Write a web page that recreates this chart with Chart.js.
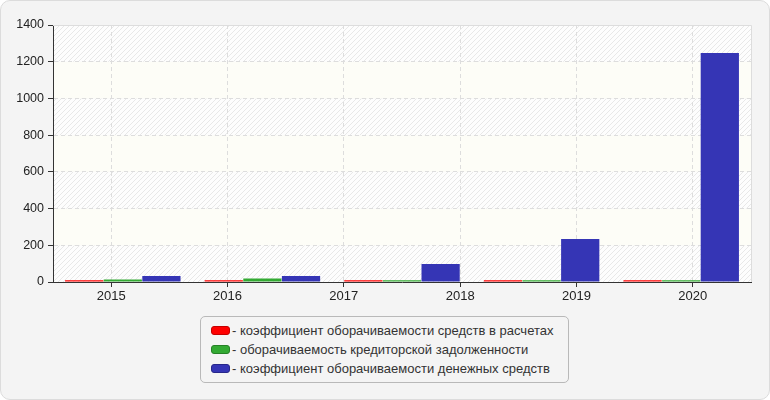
<!DOCTYPE html>
<html>
<head>
<meta charset="utf-8">
<script src="https://cdn.jsdelivr.net/npm/chart.js@4.4.0/dist/chart.umd.min.js"></script>
<style>
    body { margin: 0; background: #fff; font-family: "Liberation Sans", Arial, sans-serif; }
    #frame { position: absolute; left: 0; top: 0; width: 770px; height: 400px; box-sizing: border-box;
             border: 1px solid #dcdcdc; border-radius: 10px; background: #f4f4f4; }
    #wrap { position: absolute; left: 0; top: 0; width: 770px; height: 310px; }
    #legend { position: absolute; left: 200px; top: 316px; width: 369px; height: 67px; box-sizing: border-box;
              border: 1px solid #b9b9b9; border-radius: 5px; padding: 4px 0 0 10px;
              font-size: 13px; color: #333; }
    .item { height: 19px; line-height: 19px; white-space: nowrap; }
    .swatch { display: inline-block; width: 17px; height: 7px; border-radius: 3px; border: 1px solid;
              vertical-align: middle; margin: -2px 2px 0 0; }
</style>
</head>
<body>
<div id="frame"></div>
<div id="wrap"><canvas id="turnover-chart" width="770" height="310"></canvas></div>
<div id="legend"></div>
<script>
const yearLabels = ["2015", "2016", "2017", "2018", "2019", "2020"];
const periodLabels = ["2015-2016", "2016-2017", "2017-2018", "2018-2019", "2019-2020"];
const settlementTurnover = [10, 10, 10, 10, 10];
const payablesTurnover = [14, 19, 10, 10, 10];
const cashTurnover = [33, 33, 98, 234, 1248];
const yTicks = [0, 200, 400, 600, 800, 1000, 1200, 1400];

const seriesNames = [
    "коэффициент оборачиваемости средств в расчетах",
    "оборачиваемость кредиторской задолженности",
    "коэффициент оборачиваемости денежных средств"
];
const seriesColors = ["#ff0000", "#33aa33", "#3535b5"];
const seriesBorders = ["#c40000", "#268026", "#27278a"];

// diagonal hatch used for every other band
function makeHatch(ctx) {
    const c = document.createElement("canvas");
    c.width = 5;
    c.height = 5;
    const p = c.getContext("2d");
    p.fillStyle = "#fdfdfd";
    p.fillRect(0, 0, 5, 5);
    p.strokeStyle = "#e8e8e8";
    p.lineWidth = 1;
    p.beginPath();
    p.moveTo(0, 5); p.lineTo(5, 0);
    p.moveTo(-1, 1); p.lineTo(1, -1);
    p.moveTo(4, 6); p.lineTo(6, 4);
    p.stroke();
    return ctx.createPattern(c, "repeat");
}

const bandsPlugin = {
    id: "bands",
    beforeDraw(chart) {
        const { ctx, chartArea, scales } = chart;
        const hatch = makeHatch(ctx);
        ctx.save();
        for (let i = 0; i < yTicks.length - 1; i++) {
            const top = scales.y.getPixelForValue(yTicks[i + 1]);
            const bottom = scales.y.getPixelForValue(yTicks[i]);
            ctx.fillStyle = i % 2 === 0 ? hatch : "#fdfdf7";
            ctx.fillRect(chartArea.left, top, chartArea.right - chartArea.left, bottom - top);
        }
        ctx.restore();
    },
    afterDraw(chart) {
        const { ctx, chartArea } = chart;
        ctx.save();
        ctx.strokeStyle = "#dddddd";
        ctx.lineWidth = 1;
        ctx.beginPath();
        ctx.moveTo(chartArea.left, chartArea.top + 0.5);
        ctx.lineTo(chartArea.right + 0.5, chartArea.top + 0.5);
        ctx.lineTo(chartArea.right + 0.5, chartArea.bottom);
        ctx.stroke();
        ctx.restore();
    }
};

Chart.defaults.font.family = '"Liberation Sans", Arial, sans-serif';
Chart.defaults.font.size = 13;
Chart.defaults.color = "#222";

const datasets = [settlementTurnover, payablesTurnover, cashTurnover].map((values, i) => ({
    label: seriesNames[i],
    data: values,
    xAxisID: "xb",
    backgroundColor: seriesColors[i],
    borderWidth: 0,
    categoryPercentage: 0.83,
    barPercentage: 0.99
}));

const turnoverChart = new Chart(document.getElementById("turnover-chart").getContext("2d"), {
    type: "bar",
    data: {
        labels: periodLabels,
        datasets: datasets
    },
    options: {
        responsive: false,
        animation: false,
        layout: { padding: { top: 25, right: 19, bottom: 0, left: 0 } },
        plugins: {
            legend: { display: false },
            tooltip: { enabled: false }
        },
        scales: {
            xb: {
                type: "category",
                labels: periodLabels,
                offset: true,
                display: false,
                grid: { offset: true }
            },
            x: {
                type: "category",
                labels: yearLabels,
                offset: true,
                afterFit(scale) { scale.height = 28; },
                border: { display: true, color: "#333", width: 1, dash: [4, 3] },
                grid: {
                    offset: false,
                    color: "#dddddd",
                    tickColor: "#333",
                    tickLength: 5,
                    tickBorderDash: []
                },
                ticks: { padding: 2, maxRotation: 0 }
            },
            y: {
                min: 0,
                max: 1400,
                afterFit(scale) { scale.width = 53; },
                border: { display: true, color: "#333", width: 1, dash: [4, 3] },
                grid: {
                    color: "#dddddd",
                    tickColor: "#333",
                    tickLength: 5,
                    tickBorderDash: []
                },
                ticks: {
                    stepSize: 200,
                    padding: 4,
                    font: { size: 12.5 },
                    callback: (value) => String(value)
                }
            }
        }
    },
    plugins: [bandsPlugin]
});

// legend built from the chart's datasets
const legendEl = document.getElementById("legend");
turnoverChart.data.datasets.forEach((ds, i) => {
    const row = document.createElement("div");
    row.className = "item";
    const sw = document.createElement("span");
    sw.className = "swatch";
    sw.style.background = ds.backgroundColor;
    sw.style.borderColor = seriesBorders[i];
    row.appendChild(sw);
    row.appendChild(document.createTextNode("- " + ds.label));
    legendEl.appendChild(row);
});
</script>
</body>
</html>
